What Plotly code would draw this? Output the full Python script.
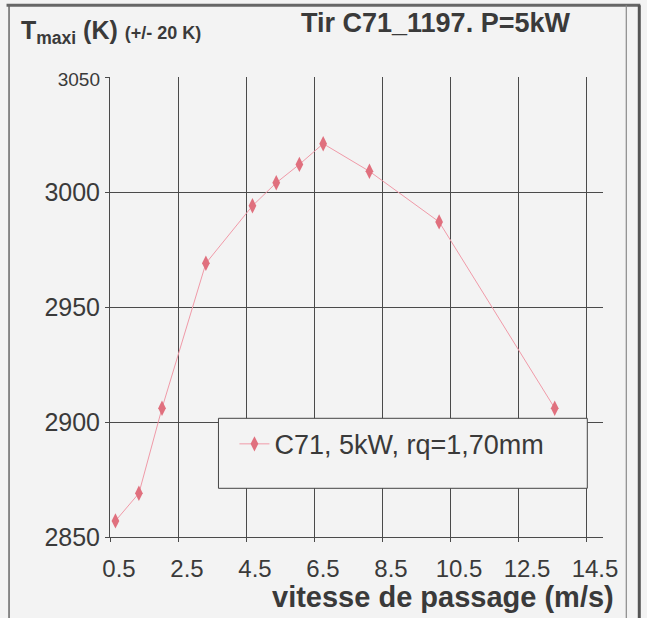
import plotly.graph_objects as go

# ---- data ----
vitesse = [0.66, 1.35, 2.03, 3.32, 4.69, 5.39, 6.07, 6.77, 8.13, 10.18, 13.58]
t_maxi = [2857, 2869, 2906, 2969, 2994, 3004, 3012, 3021, 3009, 2987, 2906]
series_name = "C71, 5kW, rq=1,70mm"

x_tick_vals = [0.5, 2.5, 4.5, 6.5, 8.5, 10.5, 12.5, 14.5]
x_tick_text = ["0.5", "2.5", "4.5", "6.5", "8.5", "10.5", "12.5", "14.5"]
y_tick_vals = [2850, 2900, 2950, 3000, 3050]
y_tick_text = ["2850", "2900", "2950", "3000", "<span style='font-size:19px'>3050</span>"]

FONT = "Liberation Sans, Arial, sans-serif"
TXT = "#3a3a3a"
GRID = "#4a4a4a"
BG = "#f3f3f3"

fig = go.Figure()
fig.add_trace(go.Scatter(
    x=vitesse, y=t_maxi, mode="lines+markers", name=series_name,
    line=dict(color="#f09aa8", width=1),
    marker=dict(symbol="diamond-tall", size=11, color="#e0707e"),
))

W, H = 647, 618
L, R, T, B = 109.5, 44.3, 76.7, 81.3
pw, ph = W - L - R, H - T - B


def px(xp):
    return (xp - L) / pw


def py(yp):
    return (H - B - yp) / ph


shapes = [
    # legend box
    dict(type="rect", xref="paper", yref="paper", x0=px(218), x1=px(587), y0=py(488), y1=py(418),
         fillcolor=BG, line=dict(color="#444", width=1), layer="above"),
    # outer frame
    dict(type="line", xref="paper", yref="paper", x0=px(8.5), x1=px(8.5), y0=py(5), y1=py(620),
         line=dict(color="#666", width=1.5)),
    dict(type="line", xref="paper", yref="paper", x0=px(6), x1=px(640), y0=py(5), y1=py(5),
         line=dict(color="#666", width=3)),
    dict(type="line", xref="paper", yref="paper", x0=px(626), x1=px(626), y0=py(5), y1=py(620),
         line=dict(color="#888", width=1.2)),
    dict(type="line", xref="paper", yref="paper", x0=px(639), x1=px(639), y0=py(5), y1=py(620),
         line=dict(color="#555", width=3)),
]

annotations = [
    dict(xref="paper", yref="paper", x=px(18), y=py(32), xanchor="left", yanchor="middle",
         showarrow=False,
         text="<b>T<sub>maxi</sub> (K) <span style='font-size:18px'>(+/- 20 K)</span></b>",
         font=dict(family=FONT, size=25, color=TXT)),
    dict(xref="paper", yref="paper", x=px(299), y=py(23), xanchor="left", yanchor="middle",
         showarrow=False, text="<b>Tir C71_1197. P=5kW</b>",
         font=dict(family=FONT, size=27, color=TXT)),
    dict(xref="paper", yref="paper", x=px(443), y=py(597), xanchor="center", yanchor="middle",
         showarrow=False, text="<b>vitesse de passage (m/s)</b>",
         font=dict(family=FONT, size=29, color=TXT)),
]

fig.update_layout(
    width=W, height=H,
    margin=dict(l=L, r=R, t=T, b=B, autoexpand=False),
    paper_bgcolor=BG, plot_bgcolor=BG,
    font=dict(family=FONT, color=TXT),
    showlegend=True,
    legend=dict(x=px(234), y=py(444), xanchor="left", yanchor="middle",
                bgcolor="rgba(0,0,0,0)", borderwidth=0,
                font=dict(family=FONT, size=27, color=TXT)),
    shapes=shapes, annotations=annotations,
    xaxis=dict(range=[0.5, 15.0], tickvals=x_tick_vals, ticktext=x_tick_text,
               showgrid=True, gridcolor=GRID, gridwidth=1, zeroline=False,
               showline=True, linecolor=GRID, linewidth=1,
               ticks="outside", ticklen=4, tickcolor=GRID,
               tickfont=dict(family=FONT, size=24, color=TXT), ticklabelshift=9,
               ticklabelstandoff=6),
    yaxis=dict(range=[2850, 3050], tickvals=y_tick_vals, ticktext=y_tick_text,
               showgrid=True, gridcolor=GRID, gridwidth=1, zeroline=False,
               showline=True, linecolor=GRID, linewidth=1,
               ticks="outside", ticklen=4, tickcolor=GRID,
               tickfont=dict(family=FONT, size=25, color=TXT)),
)

fig.write_html("out.html", config={"displayModeBar": False},
               post_script="document.body.style.margin='0';document.body.style.overflow='hidden';")
